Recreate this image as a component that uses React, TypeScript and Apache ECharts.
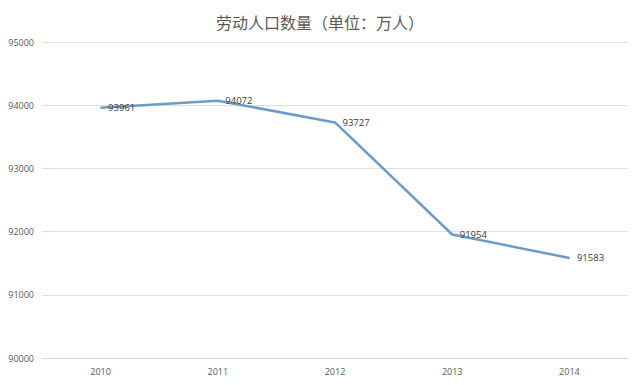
import React, { useEffect, useRef } from "react";
import * as echarts from "echarts";

const titleText = "劳动人口数量（单位：万人）";
const years = ["2010", "2011", "2012", "2013", "2014"];
const workforce = [93961, 94072, 93727, 91954, 91583];
const yMin = 90000;
const yMax = 95000;
const yStep = 1000;

export default function App() {
  const ref = useRef<HTMLDivElement>(null);
  useEffect(() => {
    if (!ref.current) return;
    const chart = echarts.init(ref.current, undefined, { renderer: "svg" });
    chart.setOption({
      animation: false,
      backgroundColor: "#ffffff",
      title: {
        text: titleText,
        left: "center",
        top: 9,
        textStyle: {
          fontFamily: "Noto Sans CJK SC",
          fontSize: 16,
          fontWeight: "normal",
          color: "#595959",
        },
      },
      grid: { left: 42, right: 12, top: 42, bottom: 27 },
      xAxis: {
        type: "category",
        data: years,
        boundaryGap: true,
        axisLine: { show: true, lineStyle: { color: "#d9d9d9" } },
        axisTick: { show: false },
        axisLabel: {
          color: "#595959",
          fontSize: 9,
          margin: 9,
          fontFamily: "Open Sans",
        },
      },
      yAxis: {
        type: "value",
        min: yMin,
        max: yMax,
        interval: yStep,
        axisLine: { show: false },
        axisTick: { show: false },
        axisLabel: {
          color: "#595959",
          fontSize: 9,
          margin: 8,
          fontFamily: "Open Sans",
          formatter: (v: number) => String(v),
        },
        splitLine: { lineStyle: { color: "#e0e0e0" } },
      },
      series: [
        {
          type: "line",
          data: workforce,
          showSymbol: true,
          symbol: "circle",
          symbolSize: 1,
          itemStyle: { color: "#6d9bc8", borderWidth: 0 },
          lineStyle: { color: "#6d9bc8", width: 2.5 },
          label: {
            show: true,
            position: "right",
            distance: 7,
            offset: [0, 1],
            color: "#404040",
            fontSize: 9.5,
            fontFamily: "Open Sans",
          },
          labelLayout: { hideOverlap: false },
        },
      ],
    });
    return () => chart.dispose();
  }, []);
  return <div ref={ref} style={{ width: 640, height: 385, position: "absolute", left: 0, top: 0 }} />;
}
